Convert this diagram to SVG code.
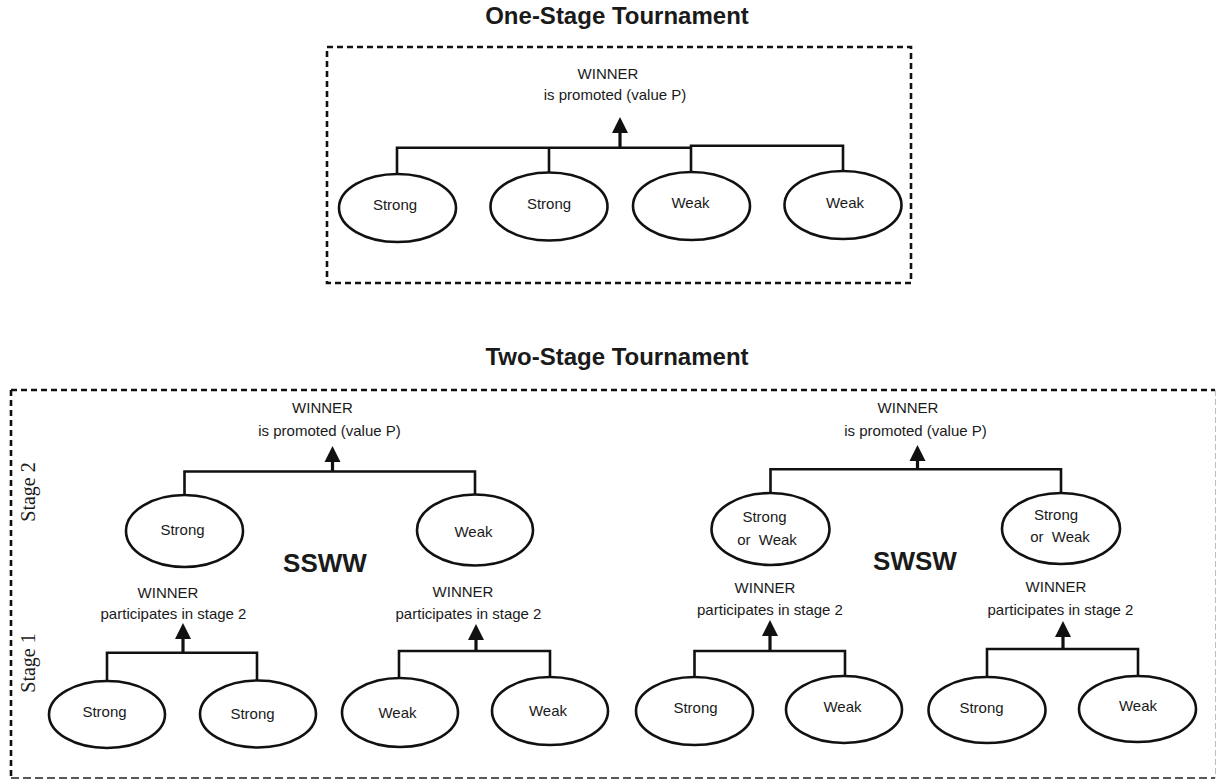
<svg xmlns="http://www.w3.org/2000/svg" width="1217" height="780" viewBox="0 0 1217 780">
  <style>
    .title { font-family: "Liberation Sans", Arial, sans-serif; font-weight: bold; font-size: 24px; fill: #1a1a1a; text-anchor: middle; }
    .code { font-family: "Liberation Sans", Arial, sans-serif; font-weight: bold; font-size: 26px; fill: #1a1a1a; text-anchor: middle; }
    .lbl { font-family: "Liberation Sans", Arial, sans-serif; font-size: 15px; fill: #1a1a1a; text-anchor: middle; }
    .stage { font-family: "Liberation Serif", "Times New Roman", serif; font-size: 20px; fill: #1a1a1a; text-anchor: middle; }
    .node ellipse { fill: #ffffff; stroke: #111; stroke-width: 2.6; }
    .wire { fill: none; stroke: #111; stroke-width: 2.6; stroke-linejoin: miter; }
    .shaft { stroke: #111; stroke-width: 3.2; }
    .head { fill: #111; }
    .frame { fill: none; stroke: #111; stroke-width: 2.6; stroke-dasharray: 6 4; }
  </style>
  <defs>
    <!-- arrowhead, tip at origin, pointing up -->
    <path id="ah" class="head" d="M0,0 L-8,16 L8,16 Z"/>
  </defs>

  <rect width="1217" height="780" fill="#ffffff"/>

  <!-- ===== One-stage tournament ===== -->
  <text class="title" x="617" y="24">One-Stage Tournament</text>
  <rect class="frame" x="327" y="47" width="584" height="236"/>

  <g id="connectors">
    <!-- one-stage bracket -->
    <path class="wire" d="M397,174 V147.7 H691 M549,147.7 V173 M691,172 V145.7 H843 V172"/>
    <line class="shaft" x1="620" y1="148" x2="620" y2="132"/>
    <use href="#ah" x="620" y="117"/>

    <!-- two-stage, SSWW, stage 2 -->
    <path class="wire" d="M184.5,496 V471.5 H475 V495"/>
    <line class="shaft" x1="332.5" y1="472" x2="332.5" y2="460"/>
    <use href="#ah" x="332.5" y="446"/>
    <!-- SSWW, stage 1 -->
    <path class="wire" d="M107,681 V652.7 H257 V680"/>
    <line class="shaft" x1="183" y1="653" x2="183" y2="637"/>
    <use href="#ah" x="183" y="623"/>
    <path class="wire" d="M399,679 V651 H550 V678"/>
    <line class="shaft" x1="476" y1="651" x2="476" y2="638"/>
    <use href="#ah" x="476" y="624"/>

    <!-- two-stage, SWSW, stage 2 -->
    <path class="wire" d="M770.5,494 V469.3 H1061 V493"/>
    <line class="shaft" x1="917.5" y1="469" x2="917.5" y2="459"/>
    <use href="#ah" x="917.5" y="445"/>
    <!-- SWSW, stage 1 -->
    <path class="wire" d="M694.5,678 V651 H845 V677"/>
    <line class="shaft" x1="770" y1="651" x2="770" y2="635"/>
    <use href="#ah" x="770" y="620"/>
    <path class="wire" d="M987,677 V649 H1138 V676"/>
    <line class="shaft" x1="1063" y1="649" x2="1063" y2="636"/>
    <use href="#ah" x="1063" y="621"/>

    <!-- outcome labels -->
    <text class="lbl" x="608" y="79">WINNER</text>
    <text class="lbl" x="615" y="100">is promoted (value P)</text>

    <text class="lbl" x="322.5" y="413">WINNER</text>
    <text class="lbl" x="329.5" y="436">is promoted (value P)</text>
    <text class="lbl" x="908" y="413">WINNER</text>
    <text class="lbl" x="915.5" y="436">is promoted (value P)</text>

    <text class="lbl" x="168" y="598">WINNER</text>
    <text class="lbl" x="173.5" y="619">participates in stage 2</text>
    <text class="lbl" x="463" y="597">WINNER</text>
    <text class="lbl" x="468.5" y="619">participates in stage 2</text>
    <text class="lbl" x="765" y="593">WINNER</text>
    <text class="lbl" x="770" y="615">participates in stage 2</text>
    <text class="lbl" x="1056" y="592">WINNER</text>
    <text class="lbl" x="1060.5" y="615">participates in stage 2</text>
  </g>

  <!-- one-stage players -->
  <g id="one-s1" class="node"><ellipse cx="397.5" cy="208" rx="58.5" ry="34"/><text class="lbl" x="395" y="210">Strong</text></g>
  <g id="one-s2" class="node"><ellipse cx="549" cy="206.5" rx="58.5" ry="34"/><text class="lbl" x="549" y="209">Strong</text></g>
  <g id="one-w1" class="node"><ellipse cx="691.5" cy="206" rx="58.5" ry="34"/><text class="lbl" x="690.5" y="208">Weak</text></g>
  <g id="one-w2" class="node"><ellipse cx="843" cy="205" rx="58.5" ry="34"/><text class="lbl" x="845" y="208">Weak</text></g>

  <!-- ===== Two-stage tournament ===== -->
  <text class="title" x="617" y="365">Two-Stage Tournament</text>
  <g id="frame2">
    <line x1="11" y1="390" x2="1215" y2="390" stroke="#111" stroke-width="2.6" stroke-dasharray="6 4"/>
    <line x1="11" y1="390" x2="11" y2="778" stroke="#111" stroke-width="2.6" stroke-dasharray="6 4"/>
    <line x1="11" y1="778" x2="1215" y2="778" stroke="#222" stroke-width="1.4" stroke-dasharray="8 4"/>
    <line x1="1215.5" y1="390" x2="1215.5" y2="778" stroke="#bdbdbd" stroke-width="1" stroke-dasharray="6 3"/>
  </g>

  <text class="stage" transform="translate(35 492) rotate(-90)">Stage 2</text>
  <text class="stage" transform="translate(35 663) rotate(-90)">Stage 1</text>

  <text class="code" x="325" y="572">SSWW</text>
  <text class="code" x="915" y="570">SWSW</text>

  <!-- SSWW stage 2 -->
  <g id="ssww-s2-strong" class="node"><ellipse cx="184.5" cy="531" rx="58.5" ry="36"/><text class="lbl" x="182.5" y="535">Strong</text></g>
  <g id="ssww-s2-weak" class="node"><ellipse cx="475" cy="530" rx="58" ry="35.5"/><text class="lbl" x="473.5" y="537">Weak</text></g>
  <!-- SSWW stage 1 -->
  <g id="ssww-s1-a" class="node"><ellipse cx="107" cy="714.5" rx="58" ry="33.5"/><text class="lbl" x="104.5" y="717">Strong</text></g>
  <g id="ssww-s1-b" class="node"><ellipse cx="258" cy="714" rx="58" ry="33.5"/><text class="lbl" x="252.5" y="719">Strong</text></g>
  <g id="ssww-s1-c" class="node"><ellipse cx="400" cy="712.5" rx="58" ry="34.5"/><text class="lbl" x="397.5" y="718">Weak</text></g>
  <g id="ssww-s1-d" class="node"><ellipse cx="550" cy="711" rx="58" ry="34"/><text class="lbl" x="548" y="716">Weak</text></g>

  <!-- SWSW stage 2 -->
  <g id="swsw-s2-a" class="node"><ellipse cx="770.5" cy="529" rx="59" ry="36"/>
    <text class="lbl" x="764.5" y="522">Strong</text>
    <text class="lbl" x="767" y="545" xml:space="preserve">or  Weak</text></g>
  <g id="swsw-s2-b" class="node"><ellipse cx="1061" cy="528.5" rx="59" ry="35.5"/>
    <text class="lbl" x="1056" y="520">Strong</text>
    <text class="lbl" x="1060" y="542" xml:space="preserve">or  Weak</text></g>
  <!-- SWSW stage 1 -->
  <g id="swsw-s1-a" class="node"><ellipse cx="694.5" cy="711" rx="58.5" ry="34"/><text class="lbl" x="695.5" y="713">Strong</text></g>
  <g id="swsw-s1-b" class="node"><ellipse cx="844" cy="709.5" rx="58" ry="33.5"/><text class="lbl" x="842.5" y="712">Weak</text></g>
  <g id="swsw-s1-c" class="node"><ellipse cx="987" cy="710" rx="58.5" ry="33"/><text class="lbl" x="981.5" y="713">Strong</text></g>
  <g id="swsw-s1-d" class="node"><ellipse cx="1137.5" cy="709" rx="58.5" ry="33"/><text class="lbl" x="1138" y="711">Weak</text></g>
</svg>
